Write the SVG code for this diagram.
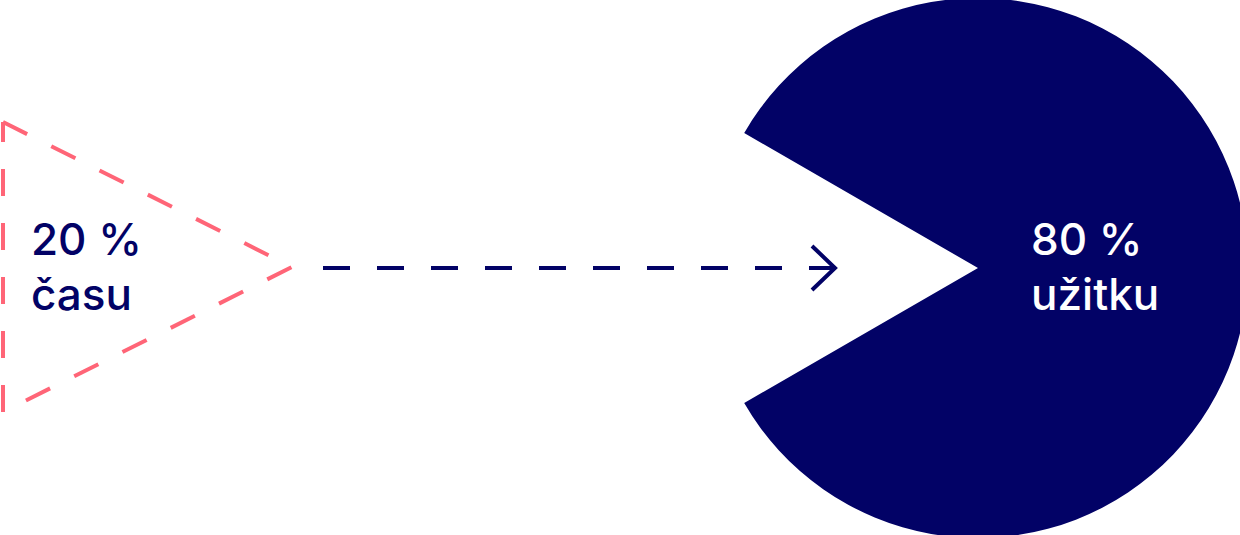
<svg xmlns="http://www.w3.org/2000/svg" width="1240" height="535" viewBox="0 0 1240 535">
<style>
.lbl{font-family:Inter,"Liberation Sans",Arial,sans-serif;font-size:44px;font-weight:500}
.pink{fill:none;stroke:#FF6577;stroke-width:4;stroke-dasharray:27 27}
.navy{fill:none;stroke:#020266;stroke-width:4}
</style>
<rect width="1240" height="535" fill="#ffffff"/>
<g id="time">
<path class="pink" d="M3,412 L3,122"/>
<path class="pink" d="M3,122 L292,267 L3,412"/>
<text class="lbl" fill="#020266" x="31" y="255">20 %</text>
<text class="lbl" fill="#020266" x="31" y="310">času</text>
</g>
<g id="benefit">
<path fill="#020266" d="M978,268 L744.2,133 A270,270 0 1 1 744.2,403 Z"/>
<text class="lbl" fill="#ffffff" x="1031" y="255">80 %</text>
<text class="lbl" fill="#ffffff" x="1031" y="310">užitku</text>
</g>
<g id="connectors">
<path class="navy" d="M323,268 L836,268" stroke-dasharray="27 27"/>
<path class="navy" d="M812,246 L835,268 L812,290"/>
</g>
</svg>
